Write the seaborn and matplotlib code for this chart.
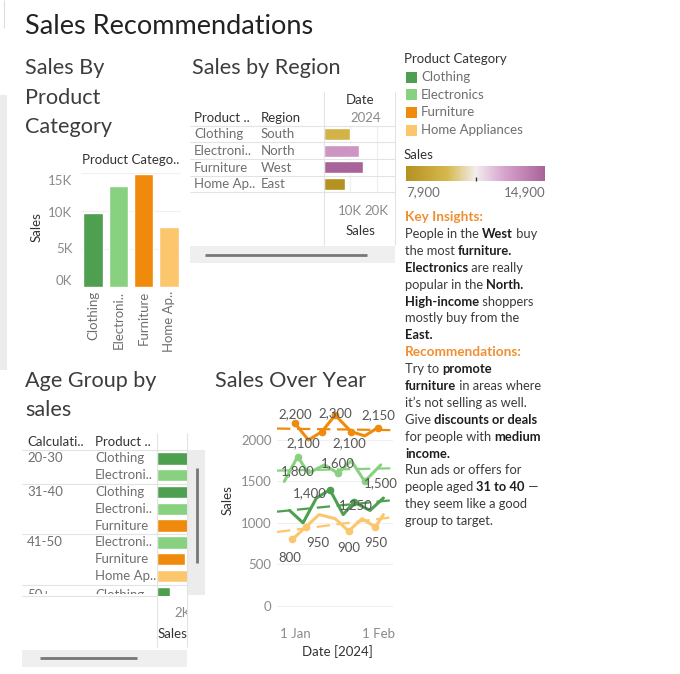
import numpy as np
import pandas as pd
import matplotlib
matplotlib.use("Agg")
import matplotlib.pyplot as plt
import matplotlib.dates as mdates
import matplotlib.transforms as mtrans
import seaborn as sns
from matplotlib.colors import LinearSegmentedColormap, Normalize
from matplotlib.patches import Rectangle

# ---------------- data ----------------
categories = ["Clothing", "Electronics", "Furniture", "Home Appliances"]
category_short = ["Clothing", "Electroni..", "Furniture", "Home Ap.."]
category_sales = [9700, 13300, 14900, 7900]

region_names = ["South", "North", "West", "East"]
region_sales = [9700, 13300, 14900, 7900]

age_groups = ["20-30", "20-30", "31-40", "31-40", "31-40", "41-50", "41-50", "41-50", "50+"]
age_categories = ["Clothing", "Electronics", "Clothing", "Electronics", "Furniture",
                  "Electronics", "Furniture", "Home Appliances", "Clothing"]
age_sales = [2600, 2800, 3000, 3200, 3500, 2400, 2150, 2500, 1000]

clothing_dates = ["2023-12-30", "2024-01-04", "2024-01-09", "2024-01-14",
                  "2024-01-19", "2024-01-23", "2024-01-29", "2024-02-03"]
clothing_sales = [1150, 1000, 1300, 1400, 1100, 1250, 1150, 1300]
electronics_dates = ["2023-12-28", "2024-01-02", "2024-01-06", "2024-01-12",
                     "2024-01-17", "2024-01-22", "2024-01-27", "2024-02-02"]
electronics_sales = [1500, 1800, 1600, 1700, 1600, 1750, 1500, 1700]
furniture_dates = ["2024-01-01", "2024-01-06", "2024-01-11", "2024-01-16",
                   "2024-01-22", "2024-01-27", "2024-02-01"]
furniture_sales = [2200, 2000, 2100, 2300, 2100, 2050, 2150]
home_dates = ["2023-12-31", "2024-01-05", "2024-01-10", "2024-01-16",
              "2024-01-21", "2024-01-26", "2024-01-31", "2024-02-03"]
home_sales = [800, 950, 1100, 1050, 900, 1050, 950, 1100]

legend_min, legend_max = 7900, 14900

# ---------------- styling ----------------
palette = {"Clothing": "#4e9f50", "Electronics": "#87d180",
           "Furniture": "#ef8a0c", "Home Appliances": "#fcc66d"}
cmap = LinearSegmentedColormap.from_list(
    "goldpurple", [(0, "#b4921f"), (0.3, "#d6b94f"), (0.5, "#f2eeee"),
                   (0.7, "#d9a6cf"), (1, "#a8649a")])
norm = Normalize(legend_min, legend_max)

W, H = 680, 674
sns.set_theme(style="white")
plt.rcParams["font.family"] = ["Lato", "DejaVu Sans"]
fig = plt.figure(figsize=(W / 100, H / 100), dpi=100)
fig.patch.set_facecolor("white")

DARK, GREY, LGREY, LINE = "#333333", "#6f6f6f", "#8a8a8a", "#e3e3e3"
BODY = 9.5


def box(x0, y0, x1, y1, z=1):
    return fig.add_axes([x0 / W, 1 - y1 / H, (x1 - x0) / W, (y1 - y0) / H], zorder=z)


P = box(0, 0, W, H, z=10)
P.set_xlim(0, W)
P.set_ylim(H, 0)
P.axis("off")


def T(x, y, s, size=BODY, color=GREY, ha="left", va="center", **kw):
    return P.text(x, y, s, fontsize=size, color=color, ha=ha, va=va, **kw)


def HL(x0, x1, y, color=LINE, lw=0.8):
    P.plot([x0, x1], [y, y], color=color, lw=lw, solid_capstyle="butt")


def VL(x, y0, y1, color=LINE, lw=0.8):
    P.plot([x, x], [y0, y1], color=color, lw=lw, solid_capstyle="butt")


def RECT(x0, y0, x1, y1, color):
    P.add_patch(Rectangle((x0, y0), x1 - x0, y1 - y0, color=color, lw=0))


def clean(ax):
    for s in ax.spines.values():
        s.set_visible(False)
    ax.set_xlabel("")
    ax.set_ylabel("")


# left strip
RECT(0, 95, 7, 370, "#ececec")
VL(4, 0, 28, color="#dddddd")

# ---------------- titles ----------------
TITLE_C = "#3d3d3d"
SEC = 15.6
T(25, 27, "Sales Recommendations", size=19.5, color="#222222")
for i, s in enumerate(["Sales By", "Product", "Category"]):
    T(25, 68 + 29.5 * i, s, size=SEC, color=TITLE_C)
T(192, 68, "Sales by Region", size=SEC, color=TITLE_C)
T(25, 381, "Age Group by", size=SEC, color=TITLE_C)
T(25, 410, "sales", size=SEC, color=TITLE_C)
T(215, 381, "Sales Over Year", size=SEC, color=TITLE_C)

# ---------------- bar chart: sales by product category ----------------
axB = box(80.7, 168, 181, 286.7)
dfc = pd.DataFrame({"cat": categories, "short": category_short, "sales": category_sales})
sns.barplot(data=dfc, x="short", y="sales", hue="cat", palette=palette, width=0.77,
            saturation=1, legend=False, ax=axB)
axB.set_xlim(-0.486, 3.48)
axB.set_ylim(0, 15000 * (286.7 - 168) / 113.3)
axB.set_yticks([0, 5000, 10000, 15000])
axB.set_yticklabels(["0K", "5K", "10K", "15K"])
axB.tick_params(axis="y", length=0, pad=6, labelsize=BODY, labelcolor=LGREY)
axB.tick_params(axis="x", length=0, pad=3, labelsize=BODY, labelcolor=GREY, rotation=90)
axB.grid(axis="y", color="#f0f0f0", lw=0.8)
axB.set_axisbelow(True)
clean(axB)
for lab, dy in zip(axB.get_yticklabels(), [7, 1, -1, -7]):
    lab.set_transform(lab.get_transform() + mtrans.ScaledTranslation(0, dy / 100, fig.dpi_scale_trans))
T(131, 160, "Product Catego..", color=DARK, ha="center")
T(37, 227, "Sales", color=DARK, rotation=90, ha="center")

# ---------------- region table ----------------
axR = box(324, 125.7, 395, 192.3)
dfr = pd.DataFrame({"region": region_names, "sales": region_sales})
region_colors = {r: cmap(norm(v)) for r, v in zip(region_names, region_sales)}
sns.barplot(data=dfr, y="region", x="sales", hue="region", palette=region_colors,
            orient="h", width=0.7, saturation=1, legend=False, ax=axR)
axR.set_xlim(0, 26900)
axR.set_ylim(3.5, -0.5)
axR.set_xticks([10000, 20000])
axR.set_xticklabels(["10K", "20K"])
axR.set_yticks([])
axR.tick_params(axis="x", length=0, pad=9, labelsize=BODY, labelcolor=LGREY)
axR.grid(axis="x", color="#eeeeee", lw=0.8)
axR.set_axisbelow(True)
clean(axR)

T(194, 117.5, "Product ..", color=DARK)
T(261, 117.5, "Region", color=DARK)
T(360, 100.5, "Date", color=DARK, ha="center")
T(366, 117.5, "2024", color=LGREY, ha="center")
for i, (c, r) in enumerate(zip(category_short, region_names)):
    T(194, 134.3 + 16.67 * i, c)
    T(261, 134.3 + 16.67 * i, r)
for i in range(5):
    HL(190, 395, 125.7 + 16.67 * i)
VL(323.5, 92, 245)
VL(395, 92, 245)
T(360, 231, "Sales", color=DARK, ha="center")
RECT(190, 246, 395, 263, "#efefef")
HL(205, 367, 255, color="#777777", lw=2)

# ---------------- legends ----------------
T(404, 59, "Product Category", color=DARK)
for i, c in enumerate(categories):
    yy = 77 + 17.7 * i
    RECT(406, yy - 5.5, 417, yy + 5.5, palette[c])
    T(421, yy, c)
T(404, 155, "Sales", color=DARK)
cax = box(406, 166, 545, 181, z=2)
cax.imshow(np.linspace(0, 1, 256)[None, :], aspect="auto", cmap=cmap, extent=[0, 1, 0, 1])
cax.axis("off")
VL(476, 177, 181, color="#333333", lw=1)
T(406, 192, f"{legend_min:,}", color=GREY)
T(545, 192, f"{legend_max:,}", color=GREY, ha="right")

# ---------------- insights text ----------------
ORANGE = "#ef8f32"
renderer = fig.canvas.get_renderer()


def width_of(s, **kw):
    t1 = P.text(0, 0, "|" + s + "|", fontsize=9.3, **kw)
    t2 = P.text(0, 0, "||", fontsize=9.3, **kw)
    w = t1.get_window_extent(renderer).width - t2.get_window_extent(renderer).width
    t1.remove()
    t2.remove()
    return w


def rich(x, y, parts):
    for s, b in parts:
        kw = dict(fontweight="bold" if b else "normal")
        P.text(x, y, s, fontsize=9.3, color="#1e1e1e" if b else "#3a3a3a", va="center", **kw)
        x += width_of(s, **kw)


lines = [
    [("Key Insights:", "H")],
    [("People in the ", 0), ("West", 1), (" buy", 0)],
    [("the most ", 0), ("furniture.", 1)],
    [("Electronics", 1), (" are really", 0)],
    [("popular in the ", 0), ("North.", 1)],
    [("High-income", 1), (" shoppers", 0)],
    [("mostly buy from the", 0)],
    [("East.", 1)],
    [("Recommendations:", "H")],
    [("Try to ", 0), ("promote", 1)],
    [("furniture", 1), (" in areas where", 0)],
    [("it\u2019s not selling as well.", 0)],
    [("Give ", 0), ("discounts or deals", 1)],
    [("for people with ", 0), ("medium", 1)],
    [("income.", 1)],
    [("Run ads or offers for", 0)],
    [("people aged ", 0), ("31 to 40", 1), (" \u2014", 0)],
    [("they seem like a good", 0)],
    [("group to target.", 0)],
]
for i, parts in enumerate(lines):
    yy = 217 + 16.9 * i
    if parts[0][1] == "H":
        P.text(405, yy, parts[0][0], fontsize=9.8, color=ORANGE, fontweight="bold", va="center")
    else:
        rich(405, yy, parts)

# ---------------- age group table ----------------
axA = box(157, 450, 187, 595.7)
dfa = pd.DataFrame({"row": [f"{g}|{c}" for g, c in zip(age_groups, age_categories)],
                    "cat": age_categories, "sales": age_sales})
sns.barplot(data=dfa, y="row", x="sales", hue="cat", palette=palette, orient="h",
            width=0.73, dodge=False, saturation=1, legend=False, ax=axA)
axA.set_xlim(0, 2308)
axA.set_ylim((595.7 - 450) / 16.8 - 0.5, -0.5)
axA.set_xticks([2000])
axA.set_xticklabels(["2K"])
axA.set_yticks([])
axA.tick_params(axis="x", length=0, pad=8, labelsize=BODY, labelcolor=LGREY)
clean(axA)

T(27, 441.7, "Calculati..", color=DARK)
T(95, 441.7, "Product ..", color=DARK)
clip = Rectangle((20, 450), 140, 144, transform=P.transData)
short_map = dict(zip(categories, category_short))
prev = None
for i, (g, c) in enumerate(zip(age_groups, age_categories)):
    yy = 458.5 + 16.8 * i
    if i == len(age_groups) - 1:
        yy += 2.5
    if g != prev:
        t = T(27, yy, g, clip_on=True)
        t.set_clip_path(clip)
        if prev is not None:
            HL(22, 187, 458.5 + 16.8 * i - 8.4)
        prev = g
    t = T(95, yy, short_map[c], clip_on=True)
    t.set_clip_path(clip)
HL(22, 187, 450)
HL(22, 157, 595.7)
VL(156.7, 433, 647)
VL(186.7, 433, 647)
RECT(187.2, 450, 205, 595, "#ececec")
VL(196.7, 468, 563, color="#777777", lw=2)
RECT(22, 650, 187, 667, "#efefef")
HL(40, 137, 657.7, color="#777777", lw=2)
T(172, 633.5, "Sales", color=DARK, ha="center")
RECT(187.2, 600, 200, 620, "white")

# ---------------- sales over year ----------------
axL = box(277, 400, 393, 615)
series = [("Clothing", clothing_dates, clothing_sales),
          ("Electronics", electronics_dates, electronics_sales),
          ("Furniture", furniture_dates, furniture_sales),
          ("Home Appliances", home_dates, home_sales)]
ts = pd.concat([pd.DataFrame({"Date": pd.to_datetime(d), "Sales": v, "Category": c})
                for c, d, v in series], ignore_index=True)
sns.lineplot(data=ts, x="Date", y="Sales", hue="Category", palette=palette,
             linewidth=2.2, legend=False, ax=axL)
jan1 = pd.Timestamp("2024-01-01")
x_lo = jan1 - pd.Timedelta(days=18 / 2.68)
x_hi = jan1 + pd.Timedelta(days=98 / 2.68)
axL.set_xlim(x_lo, x_hi)
axL.set_ylim(-112, 2483)
xx = np.array([mdates.date2num(x_lo), mdates.date2num(x_hi)])
for c, d, v in series:
    xn = mdates.date2num(pd.to_datetime(d))
    k, b = np.polyfit(xn, v, 1)
    axL.plot(mdates.num2date(xx), k * xx + b, color=palette[c], lw=1.6, dashes=(6, 3), zorder=1)

label_spec = {
    "Furniture": [(0, 0, -9), (2, -18, 11), (3, 0, -2), (4, -2, 11), (6, 0, -12)],
    "Electronics": [(1, 0, 15), (4, 0, -10), (6, 16, 2)],
    "Clothing": [(3, -20, 3), (5, 2, 3)],
    "Home Appliances": [(0, -3, 19), (1, 12, 16), (4, 0, 17), (6, 0, 16)],
}
for c, d, v in series:
    dd = pd.to_datetime(d)
    for idx, dx, dy in label_spec[c]:
        axL.plot(dd[idx], v[idx], "o", ms=4.5, color=palette[c], zorder=4)
        axL.annotate(f"{v[idx]:,}", (dd[idx], v[idx]), xytext=(dx, -dy),
                     textcoords="offset pixels", ha="center", va="center",
                     fontsize=BODY, color="#555555", zorder=5)
axL.set_yticks([0, 500, 1000, 1500, 2000])
axL.set_xticks([jan1, pd.Timestamp("2024-02-01")])
axL.set_xticklabels(["1 Jan", "1 Feb"])
axL.tick_params(axis="both", length=0, labelsize=BODY, labelcolor=LGREY)
axL.tick_params(axis="y", pad=4)
axL.tick_params(axis="x", pad=9)
axL.grid(axis="y", color="#f0f0f0", lw=0.8)
axL.set_axisbelow(True)
clean(axL)
T(228, 500, "Sales", color=DARK, rotation=90, ha="center")
T(337, 652, "Date [2024]", color=DARK, ha="center")

fig.savefig("out.png", dpi=100, facecolor="white")
